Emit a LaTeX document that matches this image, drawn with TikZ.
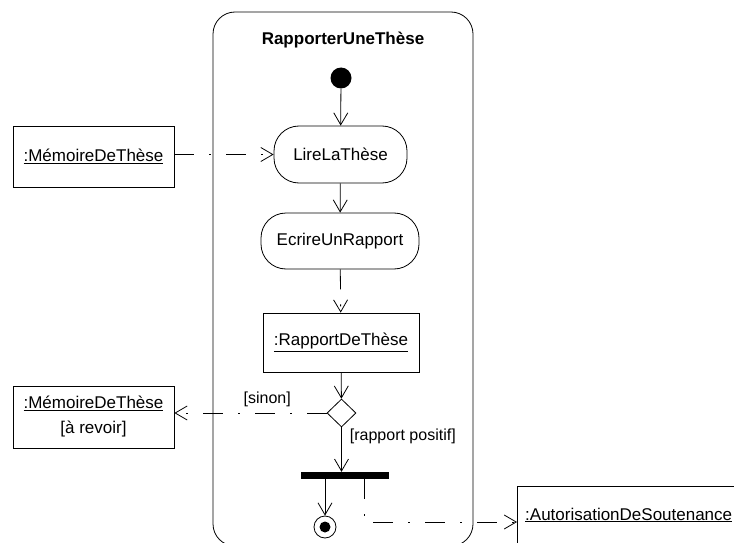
\documentclass[tikz,border=0pt]{standalone}
\usepackage{fontspec}
\setmainfont{Liberation Sans}
\usetikzlibrary{arrows.meta,shapes.geometric}
\tikzset{
  every node/.style={font=\fontsize{17}{20}\selectfont},
  act/.style={draw, rounded corners=25pt, inner sep=0pt, line width=0.8pt},
  obj/.style={draw, rectangle, inner sep=0pt, line width=0.8pt},
  flow/.style={-{Straight Barb[length=12pt,width=14pt]}, line width=0.8pt},
  oflow/.style={flow, dash pattern=on 20pt off 15pt on 2pt off 15pt},
  guard/.style={font=\fontsize{16}{19}\selectfont, inner sep=0pt},
  frame/.style={draw, rounded corners=22pt, line width=0.8pt}
}
\begin{document}
\begin{tikzpicture}[x=1pt,y=-1pt]
\useasboundingbox (0,0) rectangle (734,543);
\clip (0,0) rectangle (734,543);
\draw[frame] (213,12) rectangle (473,546);
\node[font=\fontsize{17}{20}\selectfont\bfseries] (title) at (343,40) {RapporterUneThèse};
\node[circle, fill, minimum size=21pt, inner sep=0pt] (init) at (341,78) {};
\node[act, minimum width=133pt, minimum height=57pt] (lire) at (340.5,154.5) {LireLaThèse};
\node[act, minimum width=158pt, minimum height=56pt] (ecrire) at (340,241) {EcrireUnRapport};
\node[obj, minimum width=156pt, minimum height=59pt] (rapport) at (341,342.5) {\underline{:RapportDeThèse}};
\node[diamond, draw, line width=0.8pt, minimum width=29pt, minimum height=28pt, inner sep=0pt] (dec) at (341.5,413) {};
\node[fill, minimum width=88pt, minimum height=7pt, inner sep=0pt] (fork) at (345,475.5) {};
\node[circle, draw, line width=0.8pt, minimum size=22pt, inner sep=0pt] (final) at (325,527) {};
\node[circle, fill, minimum size=11pt, inner sep=0pt] (finaldot) at (final) {};
\node[obj, minimum width=161pt, minimum height=61pt] (m1) at (93.5,156.5) {\underline{:MémoireDeThèse}};
\node[obj, minimum width=161pt, minimum height=62pt, align=center, font=\fontsize{17}{25}\selectfont] (m2) at (93.5,417) {\underline{:MémoireDeThèse}\\{[à revoir]}};
\node[obj, anchor=north west, minimum width=243pt, minimum height=74pt] (obj3) at (517,486) {};
\node[anchor=west, inner sep=0pt] (auth) at (525,515) {\underline{:AutorisationDeSoutenance}};
\draw[flow] (init) -- (lire);
\draw[oflow] (m1.east |- lire) -- (lire.west);
\draw[flow] (lire) -- (ecrire);
\draw[oflow] (ecrire) -- (rapport);
\draw[flow] (rapport) -- (dec);
\draw[oflow] (dec.west) -- (dec -| m2.east) node[guard, pos=0.39, above=6pt] (sinon) {[sinon]};
\draw[flow] (dec.south) -- (dec.south |- fork.north) node[guard, pos=0.2, right=8pt] (pos) {[rapport positif]};
\draw[flow] (final |- fork.south) -- (final);
\coordinate (c) at (364,522);
\draw[oflow] (fork.south -| c) |- (obj3.west |- c);
\end{tikzpicture}
\end{document}
